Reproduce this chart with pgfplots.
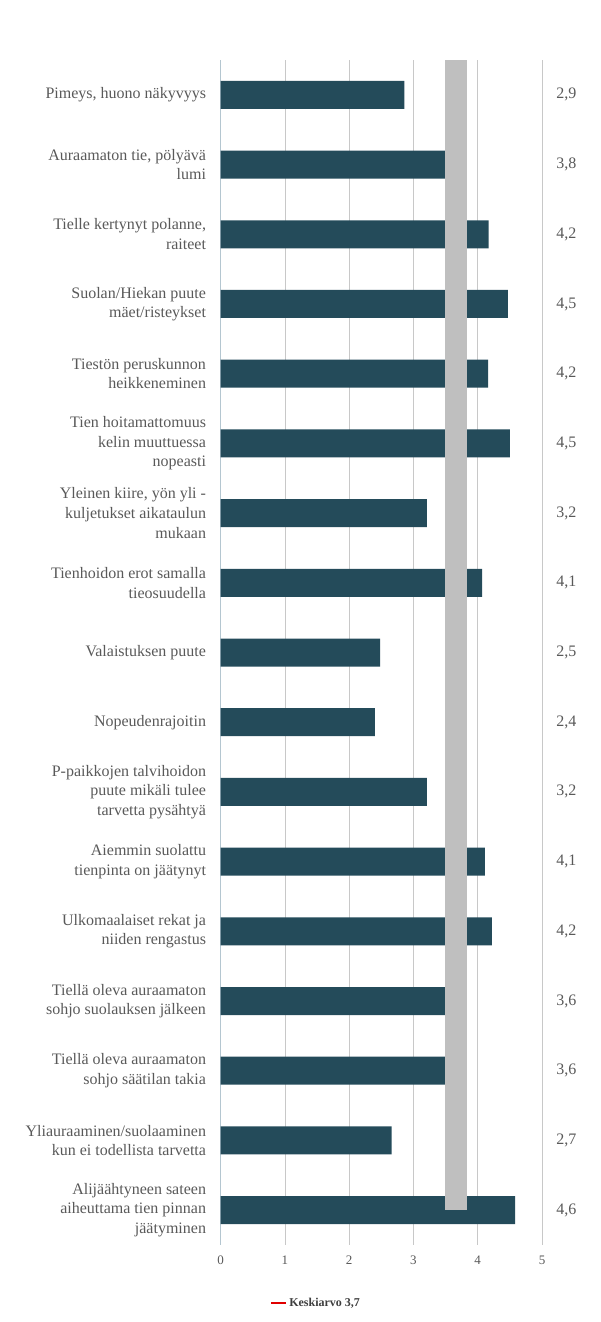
\documentclass[border=0pt]{standalone}
\usepackage{fontspec}
\setmainfont{Liberation Serif}
\usepackage{pgfplots}
\pgfplotsset{compat=1.18}
\usepackage{pgfplotstable}
\definecolor{barc}{HTML}{244B5A}
\definecolor{bandc}{HTML}{BFBFBF}
\definecolor{gridc}{HTML}{C8C8C8}
\definecolor{axc}{HTML}{B4C6D0}
\definecolor{txt}{HTML}{595959}
\definecolor{legred}{HTML}{E00000}

\pgfplotstableread{
y val
0 2.86
1 3.78
2 4.17
3 4.47
4 4.16
5 4.50
6 3.21
7 4.07
8 2.48
9 2.40
10 3.21
11 4.11
12 4.22
13 3.60
14 3.60
15 2.66
16 4.58
}\bars

\pgfplotstableread{
x y lab
5.381 0 2,9
5.381 1 3,8
5.381 2 4,2
5.381 3 4,5
5.381 4 4,2
5.381 5 4,5
5.381 6 3,2
5.381 7 4,1
5.381 8 2,5
5.381 9 2,4
5.381 10 3,2
5.381 11 4,1
5.381 12 4,2
5.381 13 3,6
5.381 14 3,6
5.381 15 2,7
5.381 16 4,6
}\labs

\begin{document}
\begin{tikzpicture}
\begin{axis}[
  scale only axis, width=321.3pt, height=1185pt,
  at={(220.7pt,77pt)}, anchor=south west,
  xmin=0, xmax=5, ymin=-0.5, ymax=16.5, y dir=reverse,
  clip=false,
  axis x line*=bottom, axis y line*=left,
  x axis line style={draw=none},
  y axis line style={draw=axc, line width=0.8pt},
  xtick={0,1,2,3,4,5},
  ytick={0,...,16},
  major tick length=0pt,
  xmajorgrids, grid style={draw=gridc, line width=0.8pt},
  /pgf/number format/assume math mode=true,
  xticklabel style={font=\fontsize{13}{13}\selectfont, text=txt, anchor=north, yshift=-7pt},
  yticklabel style={font=\fontsize{16}{19.6}\selectfont, text=txt, align=right, anchor=east, inner sep=0pt, xshift=-14.5pt},
  yticklabels={
    {Pimeys, huono näkyvyys},
    {Auraamaton tie, pölyävä\\lumi},
    {Tielle kertynyt polanne,\\raiteet\hspace{4pt}},
    {Suolan/Hiekan puute\\mäet/risteykset},
    {Tiestön peruskunnon\\heikkeneminen},
    {Tien hoitamattomuus\\kelin muuttuessa\\nopeasti\hspace{4pt}},
    {Yleinen kiire, yön yli -\\kuljetukset aikataulun\\mukaan},
    {Tienhoidon erot samalla\\tieosuudella},
    {Valaistuksen puute},
    {Nopeudenrajoitin},
    {P-paikkojen talvihoidon\\puute mikäli tulee\\tarvetta pysähtyä},
    {Aiemmin suolattu\\tienpinta on jäätynyt},
    {Ulkomaalaiset rekat ja\\niiden rengastus},
    {Tiellä oleva auraamaton\\sohjo suolauksen jälkeen},
    {Tiellä oleva auraamaton\\sohjo säätilan takia},
    {Yliauraaminen/suolaaminen\\kun ei todellista tarvetta},
    {Alijäähtyneen sateen\\aiheuttama tien pinnan\\jäätyminen}
  },
  legend style={at={(axis description cs:0.2966,-0.0489)}, anchor=center, draw=none, fill=none,
    font=\bfseries\fontsize{12}{12}\selectfont, text=txt!70!black, inner sep=2pt},
  legend image code/.code={\draw[#1] (0pt,0pt) -- (15pt,0pt);},
]
\addplot[xbar, fill=barc, draw=none, bar width=28pt, forget plot] table[x=val, y=y] {\bars};
\addplot[fill=bandc, draw=none, mark=none, forget plot] coordinates {(3.49,-0.5) (3.83,-0.5) (3.83,16) (3.49,16)} -- cycle;
\addplot[draw=none, mark=none, forget plot, nodes near coords, point meta=explicit symbolic,
  every node near coord/.append style={anchor=center, font=\fontsize{16}{16}\selectfont, text=txt}]
  table[x=x, y=y, meta=lab] {\labs};
\addlegendimage{legred, line width=2.2pt}
\addlegendentry{Keskiarvo 3,7}
\end{axis}
\pgfresetboundingbox
\useasboundingbox (0pt,0pt) rectangle (600pt,1322pt);
\end{tikzpicture}
\end{document}
